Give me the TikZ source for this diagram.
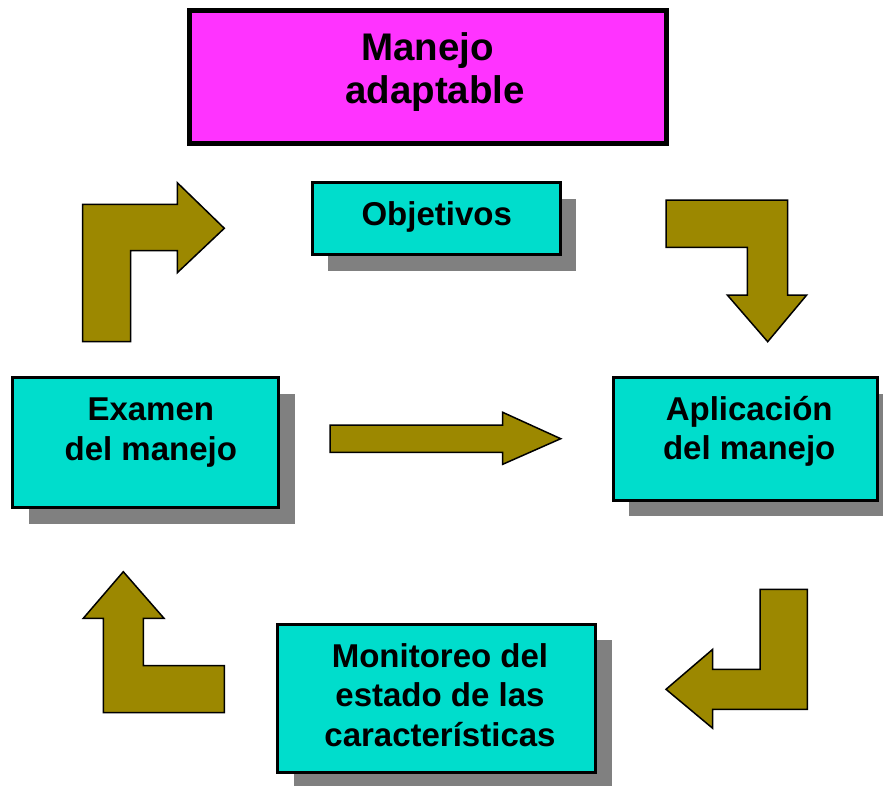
\documentclass[tikz,border=0pt]{standalone}
\usepackage{fontspec}
\setmainfont{Liberation Sans}
\usetikzlibrary{shadows}
\definecolor{magbox}{HTML}{FF33FF}
\definecolor{cyanbox}{HTML}{00DDCC}
\definecolor{olivearrow}{HTML}{9C8800}
\definecolor{shadowgray}{HTML}{808080}
\tikzset{
  cbox/.style={draw=black, line width=3pt, fill=cyanbox, inner sep=0pt,
    drop shadow={shadow xshift=16pt, shadow yshift=-16pt, fill=shadowgray, opacity=1}},
  lbl/.style={font=\bfseries\fontsize{33}{39.5}\selectfont, align=center, inner sep=0pt},
  blockarrow/.style={fill=olivearrow, draw=black, line width=1.5pt, line join=miter},
}
\begin{document}
\begin{tikzpicture}[x=1pt,y=-1pt]
\useasboundingbox (0,0) rectangle (883,785);
% title box
\node[draw=black, line width=5pt, fill=magbox, inner sep=0pt,
      minimum width=477.3pt, minimum height=132.7pt] (titlebox) at (427.8,77.2) {};
\node[font=\bfseries\fontsize{38.5}{42.6}\selectfont, align=center, inner sep=0pt]
      (titletxt) at (435,72.2) {Manejo\rule{15pt}{0pt}\\adaptable};
% cyan boxes
\node[cbox, minimum width=247.7pt, minimum height=72pt] (objbox) at (436.3,218.5) {};
\node[lbl, anchor=base] (objtxt) at (436.7,225.5) {Objetivos};
\node[cbox, minimum width=266pt, minimum height=130pt] (exbox) at (145.5,442.5) {};
\node[lbl] (extxt) at (150.8,432.4) {Examen\\del manejo};
\node[cbox, minimum width=264.6pt, minimum height=122.7pt] (apbox) at (745.5,438.85) {};
\node[lbl] (aptxt) at (749.2,431.2) {Aplicación\\del manejo};
\node[cbox, minimum width=318.3pt, minimum height=148.6pt] (monbox) at (436.7,698.5) {};
\node[lbl] (montxt) at (440,694.7) {Monitoreo del\\estado de las\\características};
% block arrows
\draw[blockarrow] (82.7,341.7) -- (82.7,204.3) -- (177.3,204.3) -- (177.3,182.7)
  -- (224.3,228.3) -- (177.3,272.7) -- (177.3,250.7) -- (130.7,250.7) -- (130.7,341.7) -- cycle;
\draw[blockarrow] (666,200) -- (787.7,200) -- (787.7,295) -- (806.7,295) -- (767.7,341.7)
  -- (727.3,295) -- (747.3,295) -- (747.3,247.3) -- (666,247.3) -- cycle;
\draw[blockarrow] (123.3,571.7) -- (164,618.3) -- (143.3,618.3) -- (143.3,665.7) -- (224.3,665.7)
  -- (224.3,712.7) -- (103.3,712.7) -- (103.3,618.3) -- (83.3,618.3) -- cycle;
\draw[blockarrow] (760,589.3) -- (807.3,589.3) -- (807.3,709.3) -- (712.7,709.3) -- (712.7,728.3)
  -- (666,689.3) -- (712.7,649.3) -- (712.7,669.3) -- (760,669.3) -- cycle;
\draw[blockarrow] (330,425) -- (502.7,425) -- (502.7,412.3) -- (560.7,438.7) -- (502.7,464.3)
  -- (502.7,452.3) -- (330,452.3) -- cycle;
\end{tikzpicture}
\end{document}
